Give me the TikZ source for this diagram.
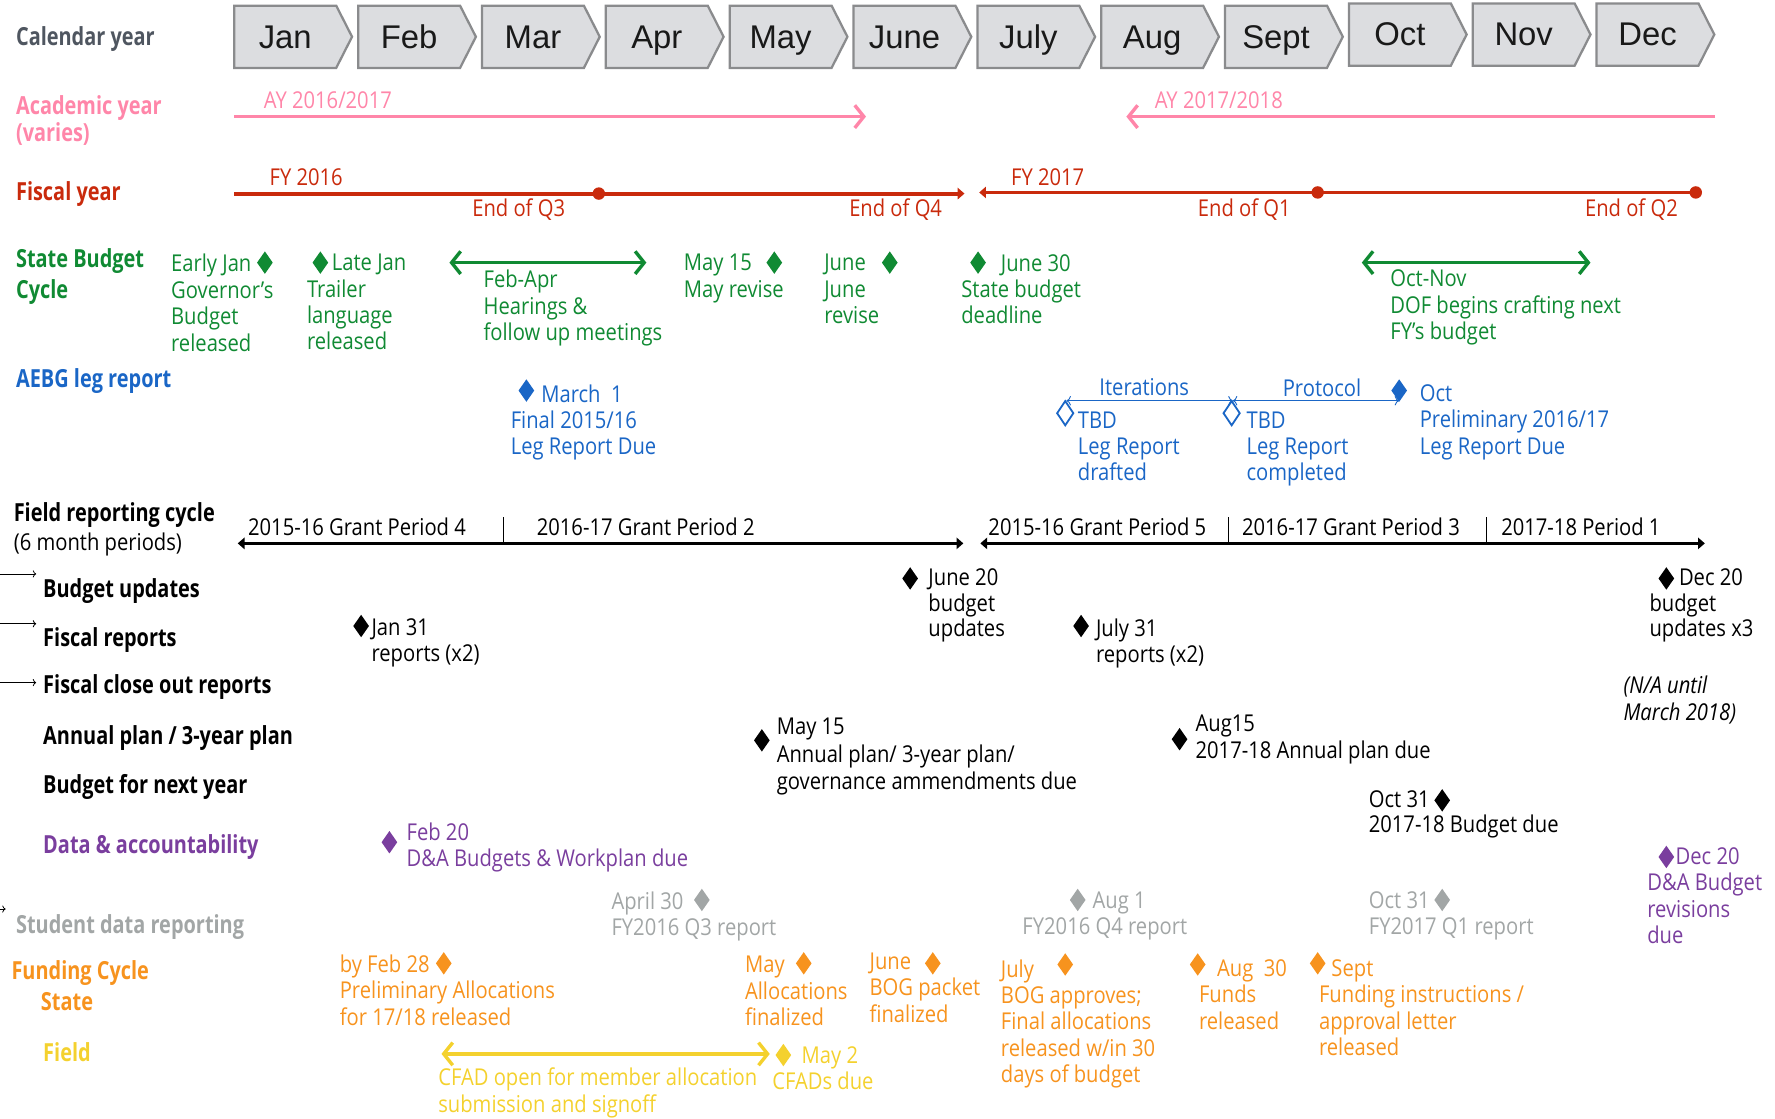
\documentclass[tikz,border=0pt]{standalone}
\usepackage{fontspec}
\setmainfont[FakeStretch=0.87]{Open Sans}
\newfontfamily\lblfont[FakeStretch=0.8]{Open Sans}
\newfontfamily\monfont{Liberation Sans}
\usetikzlibrary{arrows.meta,shapes.geometric}
\definecolor{calgray}{HTML}{4F5660}
\definecolor{boxfill}{HTML}{DCDDE0}
\definecolor{boxline}{HTML}{8A8B8D}
\definecolor{pinkc}{HTML}{FF86A9}
\definecolor{redc}{HTML}{C92A0C}
\definecolor{greenc}{HTML}{108A33}
\definecolor{bluec}{HTML}{1A66C6}
\definecolor{purplec}{HTML}{7A3E9E}
\definecolor{grayc}{HTML}{A2A6A6}
\definecolor{orangec}{HTML}{F7931E}
\definecolor{yellowc}{HTML}{F4D12E}

\begin{document}
\begin{tikzpicture}[x=1pt,y=-1pt,
  txt/.style={font=\fontsize{20.5}{23.3}\selectfont, inner sep=0pt, align=left, anchor=north west, yshift=15.6pt},
  lbl/.style={font=\lblfont\bfseries\fontsize{22}{28}\selectfont, inner sep=0pt, anchor=base west},
  dia/.style={diamond, fill, inner sep=0pt, minimum width=14pt, minimum height=20pt},
  hdia/.style={diamond, fill=white, line width=1.6pt, inner sep=0pt, minimum width=15pt, minimum height=22pt},
  qdot/.style={circle, fill=redc, inner sep=0pt, minimum size=11pt},
  barb/.style={line width=3pt, arrows={-Straight Barb[length=8pt,width=20pt]}},
  dbarb/.style={line width=3pt, arrows={Straight Barb[length=8pt,width=20pt]-Straight Barb[length=8pt,width=20pt]}},
  tri/.style={line width=3.4pt, arrows={-Triangle[length=6pt,width=10pt]}},
  monbox/.style={draw=boxline, fill=boxfill, line width=2pt},
  montxt/.style={font=\monfont\fontsize{29}{30}\selectfont, text=black!90, inner sep=0pt, anchor=base}]
\useasboundingbox (0,0) rectangle (1568,988);

% calendar row
\foreach \m [count=\i from 0] in {Jan,Feb,Mar,Apr,May,June,July,Aug,Sept,Oct,Nov,Dec}{
  \pgfmathsetmacro\mx{207+109.4*\i}
  \pgfmathsetmacro\my{\i>8 ? 30.5 : 32.5}
  \draw[monbox] (\mx,\my-27.5) -- ++(90,0) -- ++(14,27.5) -- ++(-14,27.5) -- ++(-90,0) -- cycle;
  \node[montxt] (m\i) at (\mx+45,\my+10) {\m};
}

% row labels
\node[lbl, calgray] (lcal) at (14,40) {Calendar year};
\node[lbl, pinkc] (lay) at (14,101) {Academic year};
\node[lbl, pinkc] (lvar) at (14,125) {(varies)};
\node[lbl, redc] (lfy) at (14,177) {Fiscal year};
\node[lbl, greenc] (lsb) at (14,236) {State Budget};
\node[lbl, greenc] (lcyc) at (14,264) {Cycle};
\node[lbl, bluec] (laebg) at (14,342) {AEBG leg report};
\node[lbl] (lfield) at (12,461) {Field reporting cycle};
\node[txt] (lsix) at (12,486) {(6 month periods)};
\node[lbl] (lbu) at (38,528) {Budget updates};
\node[lbl] (lfr) at (38,571) {Fiscal reports};
\node[lbl] (lfc) at (38,613) {Fiscal close out reports};
\node[lbl] (lap) at (38,658) {Annual plan / 3-year plan};
\node[lbl] (lbn) at (38,701) {Budget for next year};
\node[lbl, purplec] (lda) at (38,754) {Data \& accountability};
\node[lbl, grayc] (lsd) at (14,825) {Student data reporting};
\node[lbl, orangec] (lfund) at (10,865) {Funding Cycle};
\node[lbl, orangec] (lstate) at (36,893) {State};
\node[lbl, yellowc] (lfld) at (38,938) {Field};

% small pointers at the left edge
\coordinate (p1a) at (0,507); \coordinate (p1b) at (32,507);
\coordinate (p2a) at (0,551); \coordinate (p2b) at (32,551);
\coordinate (p3a) at (0,603); \coordinate (p3b) at (32,603);
\coordinate (p4a) at (0,803); \coordinate (p4b) at (5,803);
\path[draw,line width=0.7pt,-{To[length=3pt]}] (p1a) -- (p1b);
\path[draw,line width=0.7pt,-{To[length=3pt]}] (p2a) -- (p2b);
\path[draw,line width=0.7pt,-{To[length=3pt]}] (p3a) -- (p3b);
\path[draw,line width=0.7pt,-{To[length=3pt]}] (p4a) -- (p4b);

% academic year
\coordinate (ay1s) at (207,103); \coordinate (ay1e) at (765,103);
\coordinate (ay2s) at (1515,103); \coordinate (ay2e) at (995,103);
\path[draw,barb,pinkc] (ay1s) -- (ay1e);
\path[draw,barb,pinkc] (ay2s) -- (ay2e);
\node[txt, pinkc] (ay1) at (233,96) {AY 2016/2017};
\node[txt, pinkc] (ay2) at (1020,96) {AY 2017/2018};

% fiscal year
\coordinate (fy1s) at (207,171); \coordinate (fy1e) at (852,171);
\coordinate (fy2s) at (1498,170); \coordinate (fy2e) at (865,170);
\path[draw,tri,redc] (fy1s) -- (fy1e);
\path[draw,tri,redc] (fy2s) -- (fy2e);
\node[qdot] (q3) at (529,171) {};
\node[qdot] (q1) at (1164,170) {};
\node[qdot] (q2) at (1498,170) {};
\node[txt, redc] (fy16) at (238,164) {FY 2016};
\node[txt, redc] (eq3) at (417,191) {End of Q3};
\node[txt, redc] (eq4) at (750,191) {End of Q4};
\node[txt, redc] (fy17) at (893,164) {FY 2017};
\node[txt, redc] (eq1) at (1058,191) {End of Q1};
\node[txt, redc] (eq2) at (1400,191) {End of Q2};

% state budget cycle
\node[txt, greenc] (sb1) at (151,240) {Early Jan\\Governor's\\Budget\\released};
\node[dia, greenc] (sb1d) at (234,232) {};
\node[dia, greenc] (sb2d) at (283,232) {};
\node[txt, greenc] (sb2) at (271,240) {\hspace*{22pt}Late Jan\\Trailer\\language\\released};
\coordinate (sba) at (397,232); \coordinate (sbb) at (571,232);
\path[draw,dbarb,greenc] (sba) -- (sbb);
\node[txt, greenc] (sb3) at (427,254) {Feb-Apr\\Hearings \&\\follow up meetings};
\node[txt, greenc] (sb4) at (604,240) {May 15\\May revise};
\node[dia, greenc] (sb4d) at (684,232) {};
\node[txt, greenc] (sb5) at (728,240) {June\\June\\revise};
\node[dia, greenc] (sb5d) at (786,232) {};
\node[dia, greenc] (sb6d) at (864,232) {};
\node[txt, greenc] (sb6) at (849,240) {\hspace*{35pt}June 30\\State budget\\deadline};
\coordinate (sbc) at (1203,232); \coordinate (sbd) at (1405,232);
\path[draw,dbarb,greenc] (sbc) -- (sbd);
\node[txt, greenc] (sb7) at (1228,254) {Oct-Nov\\DOF begins crafting next\\FY’s budget};

% AEBG leg report
\node[dia, bluec] (lr1d) at (465,345) {};
\node[txt, bluec] (lr1) at (451,355) {\hspace*{27pt}March\ \ 1\\Final 2015/16\\Leg Report Due};
\coordinate (itA) at (942,354); \coordinate (itB) at (1089,354); \coordinate (itC) at (1236,354);
\path[draw,bluec,line width=0.8pt,{To[length=4pt]}-{To[length=4pt]}] (itA) -- (itB);
\path[draw,bluec,line width=0.8pt,{To[length=4pt]}-{To[length=4pt]}] (itB) -- (itC);
\node[hdia, draw=bluec] (lr2d) at (941,365) {};
\node[hdia, draw=bluec] (lr3d) at (1088,365) {};
\node[dia, bluec] (lr4d) at (1236,345) {};
\node[txt, bluec] (iter) at (971,350) {Iterations};
\node[txt, bluec] (prot) at (1133,350) {Protocol};
\node[txt, bluec] (lr2) at (952,379) {TBD\\Leg Report\\drafted};
\node[txt, bluec] (lr3) at (1101,379) {TBD\\Leg Report\\completed};
\node[txt, bluec] (lr4) at (1254,355) {Oct\\Preliminary 2016/17\\Leg Report Due};

% field reporting cycle
\coordinate (fr1s) at (210,480); \coordinate (fr1e) at (851,480);
\coordinate (fr2s) at (866,480); \coordinate (fr2e) at (1506,480);
\path[draw,line width=3pt,{Triangle[length=6pt,width=10pt]}-{Triangle[length=6pt,width=10pt]}] (fr1s) -- (fr1e);
\path[draw,line width=3pt,{Triangle[length=6pt,width=10pt]}-{Triangle[length=6pt,width=10pt]}] (fr2s) -- (fr2e);
\coordinate (b1t) at (445,457); \coordinate (b1b) at (445,480);
\coordinate (b2t) at (1085,457); \coordinate (b2b) at (1085,480);
\coordinate (b3t) at (1313,457); \coordinate (b3b) at (1313,480);
\path[draw,line width=1pt] (b1t) -- (b1b);
\path[draw,line width=1pt] (b2t) -- (b2b);
\path[draw,line width=1pt] (b3t) -- (b3b);
\node[txt] (gp4) at (219,473) {2015-16 Grant Period 4};
\node[txt] (gp2) at (474,473) {2016-17 Grant Period 2};
\node[txt] (gp5) at (873,473) {2015-16 Grant Period 5};
\node[txt] (gp3) at (1097,473) {2016-17 Grant Period 3};
\node[txt] (gp1) at (1326,473) {2017-18 Period 1};

% field deadlines
\node[dia] (bu1d) at (804,511) {};
\node[txt, font=\fontsize{20.5}{22.5}\selectfont] (bu1) at (820,518) {June 20\\budget\\updates};
\node[dia] (bu2d) at (1472,511) {};
\node[txt, font=\fontsize{20.5}{22.5}\selectfont] (bu2) at (1457,518) {\hspace*{26pt}Dec 20\\budget\\updates x3};
\node[dia] (fr1d) at (319,553) {};
\node[txt] (fr1) at (328,562) {Jan 31\\reports (x2)};
\node[dia] (fr2d) at (955,553) {};
\node[txt] (fr2) at (968,562) {July 31\\reports (x2)};
\node[txt, font=\itshape\fontsize{20.5}{24}\selectfont] (na) at (1434,612) {(N/A until\\March 2018)};
\node[dia] (ap1d) at (673,654) {};
\node[txt, font=\fontsize{20.5}{24}\selectfont] (ap1) at (686,650) {May 15\\Annual plan/ 3-year plan/\\governance ammendments due};
\node[dia] (ap2d) at (1042,653) {};
\node[txt, font=\fontsize{20.5}{24}\selectfont] (ap2) at (1056,647) {Aug15\\2017-18 Annual plan due};
\node[dia] (bn1d) at (1274,707) {};
\node[txt, font=\fontsize{20.5}{21.5}\selectfont] (bn1) at (1209,714) {Oct 31\\2017-18 Budget due};

% data and accountability
\node[dia, purplec] (da1d) at (344,744) {};
\node[txt, purplec] (da1) at (359,742) {Feb 20\\D\&A Budgets \& Workplan due};
\node[dia, purplec] (da2d) at (1472,757) {};
\node[txt, purplec] (da2) at (1455,764) {\hspace*{25pt}Dec 20\\D\&A Budget\\revisions\\due};

% student data reporting
\node[txt, grayc] (sd1) at (540,803) {April 30\\FY2016 Q3 report};
\node[dia, grayc] (sd1d) at (620,795) {};
\node[dia, grayc] (sd2d) at (952,795) {};
\node[txt, grayc] (sd2) at (903,803) {\hspace*{62pt}Aug 1\\FY2016 Q4 report};
\node[txt, grayc] (sd3) at (1209,803) {Oct 31\\FY2017 Q1 report};
\node[dia, grayc] (sd3d) at (1274,795) {};

% funding cycle, state
\node[txt, orangec] (fs1) at (300,859) {by Feb 28\\Preliminary Allocations\\for 17/18 released};
\node[dia, orangec] (fs1d) at (392,851) {};
\node[txt, orangec] (fs2) at (658,860) {May\\Allocations\\finalized};
\node[dia, orangec] (fs2d) at (710,851) {};
\node[txt, orangec] (fs3) at (768,857) {June\\BOG packet\\finalized};
\node[dia, orangec] (fs3d) at (824,851) {};
\node[txt, orangec] (fs4) at (884,863) {July\\BOG approves;\\Final allocations\\released w/in 30\\days of budget};
\node[dia, orangec] (fs4d) at (941,852) {};
\node[dia, orangec] (fs5d) at (1058,852) {};
\node[txt, orangec] (fs5) at (1059,863) {\hspace*{16pt}Aug\ \ 30\\Funds\\released};
\node[dia, orangec] (fs6d) at (1164,851) {};
\node[txt, orangec] (fs6) at (1165,863) {\hspace*{11pt}Sept\\Funding instructions /\\approval letter\\released};

% funding cycle, field
\coordinate (cfa) at (390,931); \coordinate (cfb) at (680,931);
\path[draw,dbarb,yellowc] (cfa) -- (cfb);
\node[dia, yellowc] (cf1d) at (692,932) {};
\node[txt, yellowc] (cf1) at (682,940) {\hspace*{26pt}May 2\\CFADs due};
\node[txt, yellowc] (cf2) at (387,959) {CFAD open for member allocation\\submission and signoff};
\end{tikzpicture}
\end{document}
